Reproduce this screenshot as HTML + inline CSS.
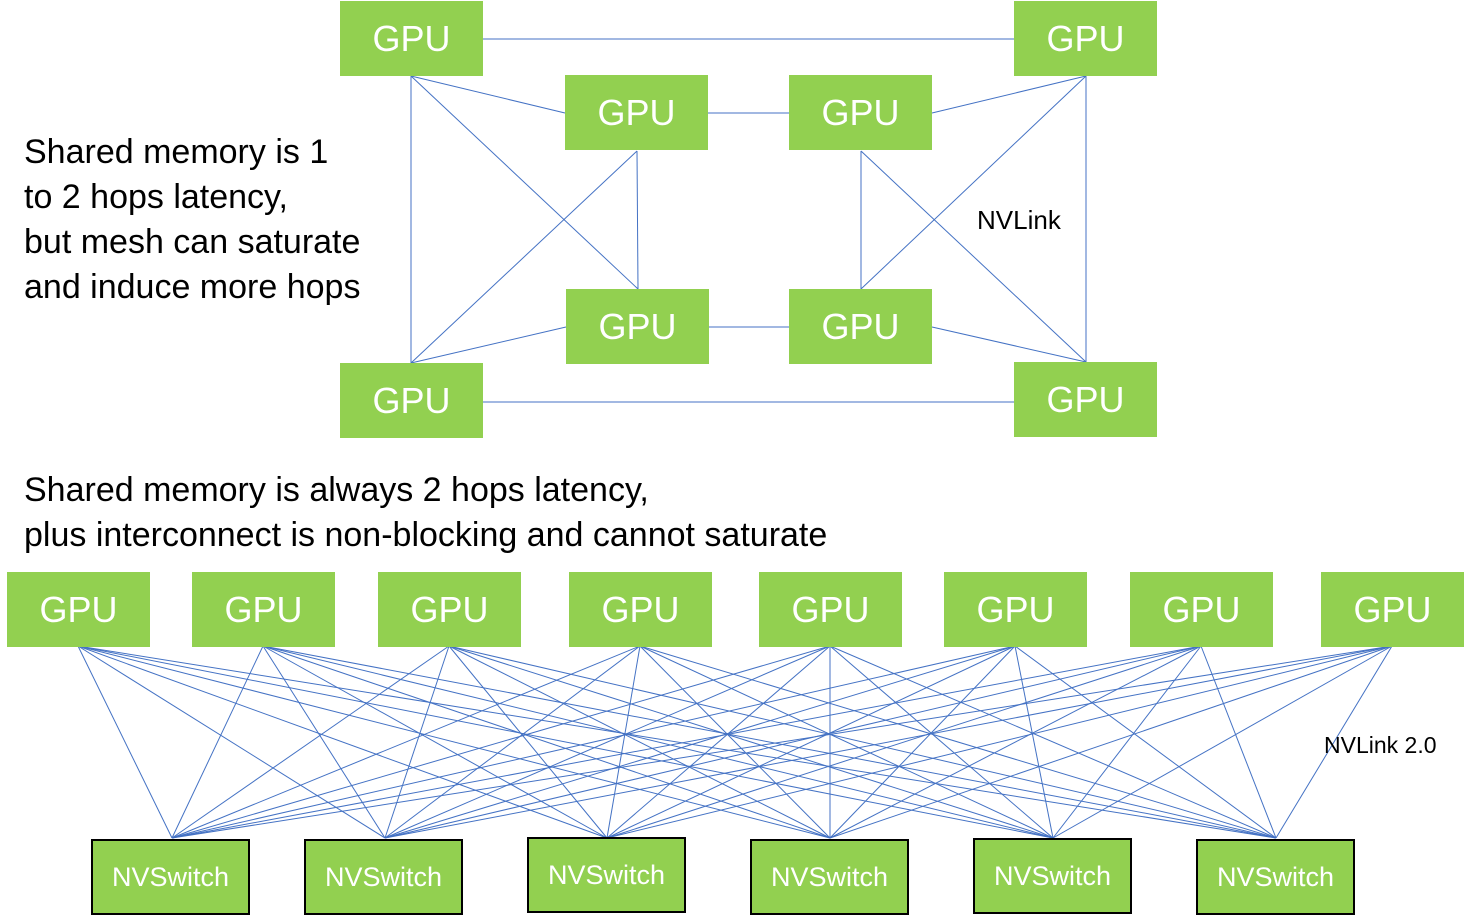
<!DOCTYPE html>
<html><head><meta charset="utf-8"><style>
body{margin:0;background:#fff;width:1464px;height:915px;overflow:hidden;position:relative;font-family:"Liberation Sans",Arial,sans-serif}
.g{position:absolute;background:#92d050;color:#fff;font-size:36px;display:flex;align-items:center;justify-content:center;width:143px;height:75px}
.s{position:absolute;background:#92d050;color:#fff;font-size:27px;display:flex;align-items:center;justify-content:center;width:155px;height:72px;border:2px solid #000}
.t{position:absolute;font-size:34px;line-height:45px;color:#000;white-space:nowrap}
svg{position:absolute;left:0;top:0}
</style></head><body>
<svg width="1464" height="915" stroke="#4472c4" stroke-width="1">
<line x1="483" y1="39" x2="1014" y2="39"/>
<line x1="411" y1="76" x2="411" y2="363"/>
<line x1="411" y1="76" x2="565" y2="113"/>
<line x1="411" y1="76" x2="638" y2="289"/>
<line x1="637" y1="151" x2="411" y2="363"/>
<line x1="637" y1="151" x2="638" y2="289"/>
<line x1="708" y1="113" x2="789" y2="113"/>
<line x1="932" y1="113" x2="1086" y2="76"/>
<line x1="1086" y1="76" x2="861" y2="289"/>
<line x1="861" y1="151" x2="861" y2="289"/>
<line x1="861" y1="151" x2="1086" y2="362"/>
<line x1="1086" y1="76" x2="1086" y2="362"/>
<line x1="566" y1="327" x2="411" y2="363"/>
<line x1="709" y1="327" x2="789" y2="327"/>
<line x1="932" y1="327" x2="1086" y2="362"/>
<line x1="483" y1="402" x2="1014" y2="402"/>
<g id="mesh"></g>
</svg>
<div class="g" style="left:340px;top:1px">GPU</div>
<div class="g" style="left:1014px;top:1px">GPU</div>
<div class="g" style="left:565px;top:75px">GPU</div>
<div class="g" style="left:789px;top:75px">GPU</div>
<div class="g" style="left:566px;top:289px">GPU</div>
<div class="g" style="left:789px;top:289px">GPU</div>
<div class="g" style="left:340px;top:363px">GPU</div>
<div class="g" style="left:1014px;top:362px">GPU</div>
<div class="t" style="left:24px;top:130px">Shared memory is 1<br>to 2 hops latency,<br>but mesh can saturate<br>and induce more hops</div>
<div class="t" style="left:977px;top:205px;font-size:26px;line-height:30px">NVLink</div>
<div class="t" style="left:24px;top:468px">Shared memory is always 2 hops latency,<br>plus interconnect is non-blocking and cannot saturate</div>
<div class="t" style="left:1324px;top:731px;font-size:23px;line-height:28px">NVLink 2.0</div>
<div class="g" style="left:7px;top:572px">GPU</div>
<div class="g" style="left:192px;top:572px">GPU</div>
<div class="g" style="left:378px;top:572px">GPU</div>
<div class="g" style="left:569px;top:572px">GPU</div>
<div class="g" style="left:759px;top:572px">GPU</div>
<div class="g" style="left:944px;top:572px">GPU</div>
<div class="g" style="left:1130px;top:572px">GPU</div>
<div class="g" style="left:1321px;top:572px">GPU</div>
<div class="s" style="left:91px;top:839px">NVSwitch</div>
<div class="s" style="left:304px;top:839px">NVSwitch</div>
<div class="s" style="left:527px;top:837px">NVSwitch</div>
<div class="s" style="left:750px;top:839px">NVSwitch</div>
<div class="s" style="left:973px;top:838px">NVSwitch</div>
<div class="s" style="left:1196px;top:839px">NVSwitch</div>
<script>
var g=document.getElementById('mesh'),gx=[78,263,449,640,830,1015,1201,1392],sx=[172,385,607,830,1053,1276],h='';
gx.forEach(function(a){sx.forEach(function(b){h+='<line x1="'+a+'" y1="646" x2="'+b+'" y2="838"/>';});});
g.innerHTML=h;
</script>
</body></html>
